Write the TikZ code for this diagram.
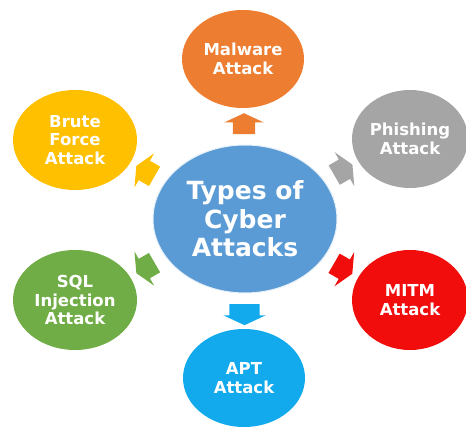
\documentclass[tikz,border=0pt]{standalone}
\usepackage{fontspec}
\setmainfont{DejaVu Sans}
\usetikzlibrary{shapes.geometric,shapes.arrows,calc}
\definecolor{cblue}{HTML}{5B9BD5}
\definecolor{corange}{HTML}{ED7D31}
\definecolor{cyellow}{HTML}{FFC000}
\definecolor{cgray}{HTML}{A5A5A5}
\definecolor{cred}{HTML}{F20D0D}
\definecolor{csky}{HTML}{12AAEC}
\definecolor{cgreen}{HTML}{70AD47}
\begin{document}
\begin{tikzpicture}[x=1pt,y=-1pt,
  bubble/.style={ellipse, inner sep=0pt, minimum width=124pt, minimum height=100pt,
    text=white, font=\bfseries\fontsize{16.5}{18.5}\selectfont, align=center},
  hub/.style={ellipse, inner sep=0pt, minimum width=184pt, minimum height=148pt,
    fill=cblue, draw=white!85!cblue, line width=1pt, text=white,
    font=\bfseries\fontsize{25}{28.5}\selectfont, align=center},
  blockarrow/.style={single arrow, inner xsep=0pt, inner ysep=11pt,
    single arrow head extend=8.5pt, single arrow tip angle=130,
    minimum height=21pt, draw=none}]
\useasboundingbox (0,0) rectangle (466,427);
\node[hub] (c) at (245,219) {Types of\\Cyber\\Attacks};
\node[bubble, fill=corange, minimum width=122pt, minimum height=98pt] (m) at (243,59) {Malware\\Attack};
\node[bubble, fill=cyellow] (bf) at (75,140) {Brute\\Force\\Attack};
\node[bubble, fill=cgray, minimum width=116pt, minimum height=98pt] (ph) at (410,139) {Phishing\\Attack};
\node[bubble, fill=cgreen] (sql) at (75,300) {SQL\\Injection\\Attack};
\node[bubble, fill=cred, minimum width=116pt] (mitm) at (410,300) {MITM\\Attack};
\node[bubble, fill=csky, minimum width=122pt, minimum height=98pt] (apt) at (244,378) {APT\\Attack};
\node[blockarrow, fill=corange, rotate=90] (a1) at ($(c.90)!0.5!(m.270)$) {};
\node[blockarrow, fill=cyellow, rotate=150] (a2) at ($(c.150)!0.5!(bf.-30)$) {};
\node[blockarrow, fill=cgray, rotate=30] (a3) at ($(c.30)!0.5!(ph.210)$) {};
\node[blockarrow, fill=cgreen, rotate=210] (a4) at ($(c.210)!0.5!(sql.30)$) {};
\node[blockarrow, fill=cred, rotate=-30] (a5) at ($(c.-30)!0.5!(mitm.150)$) {};
\node[blockarrow, fill=csky, rotate=-90, inner ysep=15pt, single arrow head extend=6pt] (a6) at ($(c.-90)!0.5!(apt.90)$) {};
\end{tikzpicture}
\end{document}
